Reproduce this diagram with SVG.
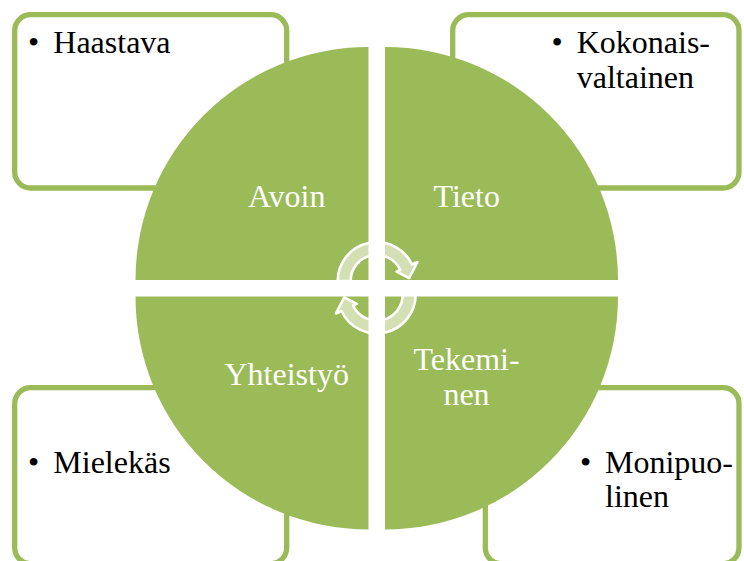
<svg xmlns="http://www.w3.org/2000/svg" width="744" height="561" viewBox="0 0 744 561">
  <style>
    .box { fill: #ffffff; stroke: #9bbb59; stroke-width: 5.3; }
    .quad { fill: #9bbb59; }
    .item { font-family: "Liberation Serif", "Times New Roman", serif; font-size: 32px; fill: #000000; }
    .label { font-family: "Liberation Serif", "Times New Roman", serif; font-size: 32px; fill: #ffffff; text-anchor: middle; }
    .cyc { fill: #ffffff; fill-opacity: 0.55; stroke: #ffffff; stroke-width: 2.6; stroke-linejoin: round; }
  </style>

  <!-- corner text boxes (drawn first so the circle overlaps them) -->
  <g id="box-haastava">
    <rect class="box" x="14.7" y="14.7" width="272" height="173.3" rx="16" ry="16"/>
    <text class="item" x="28" y="52.7">•</text>
    <text class="item" x="53.3" y="52.7">Haastava</text>
  </g>
  <g id="box-kokonaisvaltainen">
    <rect class="box" x="452.7" y="14.7" width="286.3" height="173.3" rx="16" ry="16"/>
    <text class="item" x="551.5" y="52.7">•</text>
    <text class="item" x="576.7" y="52.7">Kokonais-</text>
    <text class="item" x="576.7" y="88.3">valtainen</text>
  </g>
  <g id="box-mielekas">
    <rect class="box" x="14.7" y="387.7" width="272" height="176" rx="16" ry="16"/>
    <text class="item" x="28" y="473.3">•</text>
    <text class="item" x="53.3" y="473.3">Mielekäs</text>
  </g>
  <g id="box-monipuolinen">
    <rect class="box" x="485.3" y="387.7" width="253.7" height="176" rx="16" ry="16"/>
    <text class="item" x="580" y="472.7">•</text>
    <text class="item" x="605" y="472.7">Monipuo-</text>
    <text class="item" x="605" y="506.7">linen</text>
  </g>

  <!-- four quarter-circle segments -->
  <g id="quad-avoin">
    <path class="quad" d="M368.5 280 L135.5 280 A233 233 0 0 1 368.5 47 Z"/>
    <text class="label" x="286.7" y="206.7">Avoin</text>
  </g>
  <g id="quad-tieto">
    <path class="quad" d="M385 280 L385 47 A233 233 0 0 1 618 280 Z"/>
    <text class="label" x="466.7" y="206.7">Tieto</text>
  </g>
  <g id="quad-yhteistyo">
    <path class="quad" d="M368.5 296.5 L368.5 529.5 A233 233 0 0 1 135.5 296.5 Z"/>
    <text class="label" x="286.7" y="385">Yhteistyö</text>
  </g>
  <g id="quad-tekeminen">
    <path class="quad" d="M385 296.5 L618 296.5 A233 233 0 0 1 385 529.5 Z"/>
    <text class="label" x="466.5" y="370">Tekemi-</text>
    <text class="label" x="466.5" y="405">nen</text>
  </g>

  <!-- circular arrows in the middle -->
  <g id="connectors">
    <path id="arrow-top" class="cyc" d="M337.7 281 A39 39 0 0 1 412 264.5 L417.5 262 L409.1 278.2 L396.6 271.7 L400.3 270 A26 26 0 0 0 350.7 281 Z"/>
    <path id="arrow-bottom" class="cyc" transform="rotate(180 376.7 287.75)" d="M337.7 281 A39 39 0 0 1 412 264.5 L417.5 262 L409.1 278.2 L396.6 271.7 L400.3 270 A26 26 0 0 0 350.7 281 Z"/>
  </g>
</svg>
